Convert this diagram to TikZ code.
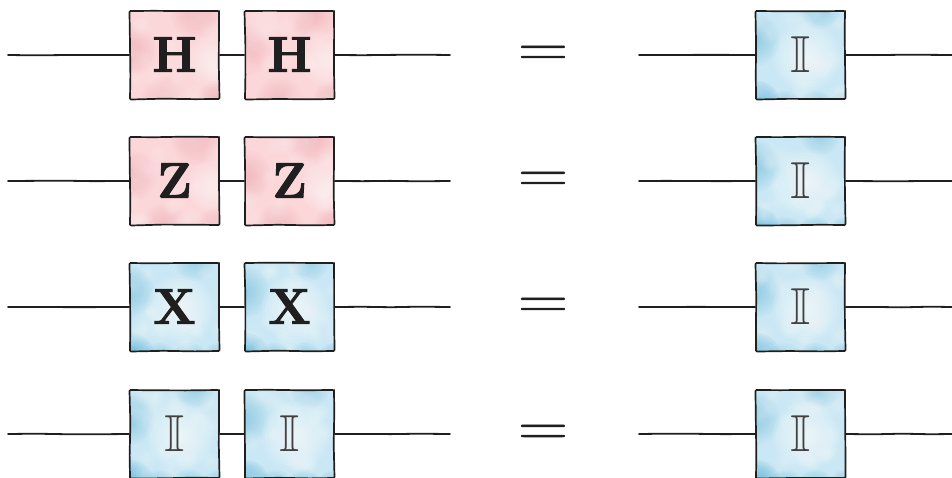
\documentclass[tikz,border=0pt]{standalone}
\usepackage{amsfonts,graphicx}
\usetikzlibrary{decorations.pathmorphing}
\definecolor{ink}{HTML}{1F1F1F}
\definecolor{redbase}{HTML}{FBD7DA}
\definecolor{reddark}{HTML}{F0A0A8}
\definecolor{bluebase}{HTML}{C9E7F4}
\definecolor{bluedark}{HTML}{55AFD6}
\newcommand{\blob}[5]{%
  \foreach \k in {1,...,10}{%
    \fill[#1,opacity=#2] (path picture bounding box.center)++(#3,#4) circle[radius=#5*\k/10];}}
\newcommand{\mottle}[3]{%
  \foreach \j in {1,...,#3}{%
    \pgfmathsetmacro{\mx}{rand*46}\pgfmathsetmacro{\my}{rand*46}\pgfmathsetmacro{\mr}{7+6*rnd}%
    \foreach \k in {1,...,4}{%
      \fill[#1,opacity=#2] (path picture bounding box.center)++(\mx,\my) circle[radius=\mr*\k/4];}}}
\newcommand{\heavy}[2]{\special{pdf:code q 2 Tr #1 w}#2\special{pdf:code Q}}
\newcommand{\gateletter}[1]{\raisebox{1pt}{\heavy{1}{#1}}}
\tikzset{
  x=1pt,y=-1pt,
  wire/.style={draw=ink,line width=1.8pt,line cap=round,decorate,decoration={random steps,segment length=28pt,amplitude=.35pt}},
  gatebox/.style={rectangle,draw=ink,line width=1.7pt,minimum width=89pt,minimum height=88pt,inner sep=0pt,text=ink,font=\fontsize{50}{50}\selectfont\bfseries,
    decorate,decoration={random steps,segment length=32pt,amplitude=.4pt},rounded corners=1pt},
  redgate/.style={gatebox,fill=redbase,path picture={
    \blob{reddark}{.06}{-44}{-5}{26}
    \blob{reddark}{.06}{22}{-42}{26}
    \blob{reddark}{.05}{-10}{46}{24}
    \blob{reddark}{.05}{42}{44}{18}
    \blob{white}{.08}{38}{6}{26}
    \mottle{white}{.05}{20}
  }},
  bluegate/.style={gatebox,fill=bluebase,path picture={
    \blob{bluedark}{.12}{-44}{50}{24}
    \blob{bluedark}{.07}{-15}{56}{20}
    \blob{bluedark}{.07}{15}{56}{20}
    \blob{bluedark}{.06}{44}{52}{16}
    \blob{bluedark}{.05}{-46}{-15}{26}
    \blob{bluedark}{.04}{20}{-46}{20}
    \blob{white}{.1}{6}{2}{34}
    \mottle{white}{.06}{18}
  }},
  eqsign/.style={inner sep=0pt,text=ink,font=\fontsize{57}{57}\selectfont},
}
\newcommand{\bbI}{\fontsize{52}{52}\selectfont\mdseries\color{ink!85}$\mathbb{I}$}
\pgfmathsetseed{7}
\begin{document}
\begin{tikzpicture}
\useasboundingbox (0,0) rectangle (952,477);
\foreach \n/\y/\sty/\lab in {1/55/redgate/{\gateletter{H}},2/181/redgate/{\gateletter{Z}},3/307/bluegate/{\gateletter{X}},4/434/bluegate/\bbI}{
  \coordinate (s\n) at (8,\y);
  \coordinate (m\n) at (450,\y);
  \coordinate (t\n) at (639,\y);
  \coordinate (u\n) at (952,\y);
  \node[\sty] (a\n) at (174.5,\y) {\lab};
  \node[\sty] (b\n) at (289.5,\y) {\lab};
  \node[eqsign] (e\n) at (543,\y+1) {\scalebox{1.22}[1]{\heavy{.5}{=}}};
  \node[bluegate] (c\n) at (800.5,\y) {\bbI};
  \draw[wire] (s\n) -- (a\n.west);
  \draw[wire] (a\n.east) -- (b\n.west);
  \draw[wire] (b\n.east) -- (m\n);
  \draw[wire] (t\n) -- (c\n.west);
  \draw[wire] (c\n.east) -- (u\n);
}
\end{tikzpicture}
\end{document}
